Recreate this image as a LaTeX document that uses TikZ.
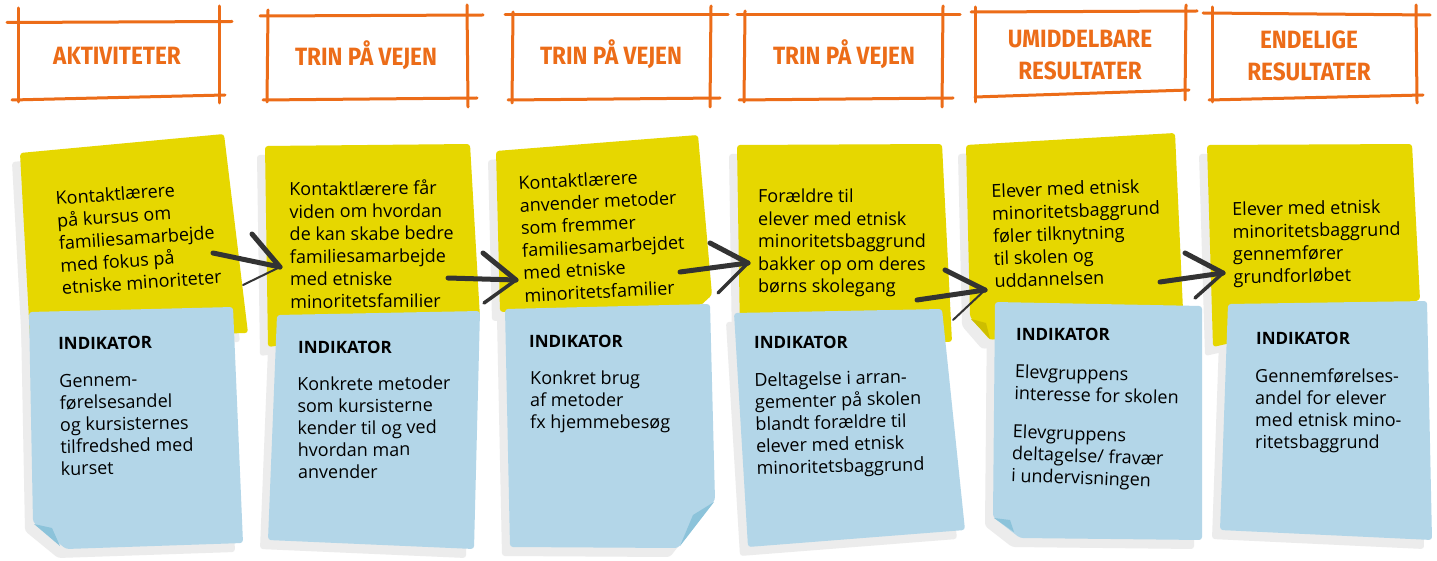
\documentclass[tikz,border=0pt]{standalone}
\usepackage{fontspec}
\setmainfont{Open Sans}
\newfontfamily\hdrfont{Fira Sans}
\definecolor{hdrorange}{RGB}{236,108,24}
\definecolor{notey}{RGB}{230,215,0}
\definecolor{noteb}{RGB}{179,214,232}
\definecolor{curlb}{RGB}{140,195,218}
\definecolor{curly}{RGB}{205,190,0}
\definecolor{shade}{RGB}{236,236,236}
\definecolor{arrowcol}{RGB}{51,51,51}
\newcommand{\hdrtxt}[2]{\scalebox{#1}[1]{#2}}
\tikzset{
  hline/.style={draw=hdrorange, line width=3pt, line cap=round},
  hdr/.style={text=hdrorange, inner sep=0pt, font=\hdrfont\bfseries\fontsize{25}{30}\selectfont},
  txt/.style={anchor=north west, align=left, inner sep=0pt, font=\fontsize{18}{22.5}\selectfont},
  btxt/.style={anchor=north west, align=left, inner sep=0pt, font=\fontsize{18}{22}\selectfont},
  ttl/.style={anchor=north west, inner sep=0pt, font=\bfseries\fontsize{17}{20}\selectfont},
  yfill/.style={fill=notey, rounded corners=3pt},
  bfill/.style={fill=noteb, rounded corners=3pt},
  sfill/.style={fill=shade, rounded corners=3pt},
  arr/.style={draw=arrowcol, line width=5pt, line cap=round},
  arrthin/.style={draw=arrowcol, line width=2pt, line cap=round},
  arrmid/.style={draw=arrowcol, line width=3.5pt, line cap=round},
  pY1/.style={insert path={(20,153) -- (224,134) -- (248,333) -- (30,338) -- cycle}},
  pB1/.style={insert path={(29,312) -- (233,307) -- (243,543) -- (66,549) -- (33,522) -- cycle}},
  pY2/.style={insert path={(265,146) -- (470,144) -- (480,318) -- (268,347) -- cycle}},
  pB2/.style={insert path={(277,315) -- (480,311) -- (474,549) -- (268,540) -- cycle}},
  pY3/.style={insert path={(496,151) -- (698,135) -- (712,295) -- (700,306) -- (500,312) -- cycle}},
  pB3/.style={insert path={(505,309) -- (710,304) -- (715,500) -- (678,548) -- (510,547) -- cycle}},
  pY4/.style={insert path={(737,145) -- (942,144) -- (952,342) -- (740,335) -- cycle}},
  pB4/.style={insert path={(734,313) -- (942,309) -- (965,530) -- (748,547) -- cycle}},
  pY5/.style={insert path={(966,145) -- (1175,133) -- (1183,310) -- (990,340) -- (970,317) -- cycle}},
  pB5/.style={insert path={(995,302) -- (1202,306) -- (1202,540) -- (1020,538) -- (993,517) -- cycle}},
  pY6/.style={insert path={(1207,145) -- (1412,144) -- (1420,300) -- (1213,347) -- cycle}},
  pB6/.style={insert path={(1228,304) -- (1427,301) -- (1432,540) -- (1220,530) -- cycle}},
}
\begin{document}
\begin{tikzpicture}[x=1pt,y=-1pt]
\useasboundingbox (0,0) rectangle (1437,561);
\fill[white] (0,0) rectangle (1437,561);

% ---------- header boxes ----------
\draw[hline] (7,22.5) -- (232,21.5);
\draw[hline] (18,8) -- (18,102);
\draw[hline] (219,6) -- (219,103);
\draw[hline] (12,100) -- (225,95);
\node[hdr] (h1) at (117,56) {\hdrtxt{0.9}{AKTIVITETER}};

\draw[hline] (260,16) -- (483,15);
\draw[hline] (268,10) -- (267,102);
\draw[hline] (467,5) -- (468,107);
\draw[hline] (263,100) -- (477,98);
\node[hdr] (h2) at (366,55) {\hdrtxt{0.9}{TRIN PÅ VEJEN}};

\draw[hline] (505,15) -- (728,15);
\draw[hline] (513,12) -- (512,103);
\draw[hline] (711,6) -- (710,107);
\draw[hline] (508,100) -- (720,98);
\node[hdr] (h3) at (611,54) {\hdrtxt{0.9}{TRIN PÅ VEJEN}};

\draw[hline] (737,15) -- (960,15);
\draw[hline] (745,11) -- (744,102);
\draw[hline] (943,6) -- (942,107);
\draw[hline] (739,100) -- (953,98);
\node[hdr] (h4) at (844,54) {\hdrtxt{0.9}{TRIN PÅ VEJEN}};

\draw[hline] (971,12) -- (1197,11);
\draw[hline] (975,7) -- (975,102);
\draw[hline] (1186,5) -- (1185,100);
\draw[hline] (975,97) -- (1189,90);
\node[hdr, align=center] (h5) at (1080,55) {\hdrtxt{0.9}{UMIDDELBARE}\\[2pt]\hdrtxt{0.9}{RESULTATER}};

\draw[hline] (1203,13) -- (1430,15);
\draw[hline] (1212,7) -- (1212,102);
\draw[hline] (1416,5) -- (1417,103);
\draw[hline] (1209,100) -- (1423,95);
\node[hdr, align=center] (h6) at (1309,56) {\hdrtxt{0.9}{ENDELIGE}\\[2pt]\hdrtxt{0.9}{RESULTATER}};

% ---------- shadows ----------
\foreach \p in {pY1,pB1,pY2,pB2,pY3,pB3,pY4,pB4,pY5,pB5,pY6,pB6}{
  \path[sfill, shift={(-8,9)}, \p];
}

% ---------- notes ----------
\path[yfill, pY1];
\path[bfill, pB1];
\fill[curlb] (34,524) -- (52,528) -- (60,546) -- cycle;

\path[yfill, pY2];
\path[bfill, pB2];

\path[yfill, pY3];
\path[bfill, pB3];
\fill[curlb] (693,515) -- (714,502) -- (680,546) -- cycle;

\path[yfill, pY4];
\path[bfill, pB4];

\path[yfill, pY5];
\fill[curly] (971,319) -- (986,323) -- (990,339) -- cycle;
\path[bfill, pB5];
\fill[curlb] (994,518) -- (1010,520) -- (1014,532) -- cycle;

\path[yfill, pY6];
\path[bfill, pB6];

% ---------- yellow texts ----------
\node[txt, rotate=4] (y1) at (55,191) {Kontaktlærere\\på kursus om\\familiesamarbejde\\med fokus på\\etniske minoriteter};
\node[txt, rotate=0.5] (y2) at (289,181) {Kontaktlærere får\\viden om hvordan\\de kan skabe bedre\\familiesamarbejde\\med etniske\\minoritetsfamilier};
\node[txt, rotate=3] (y3) at (518,176) {Kontaktlærere\\anvender metoder\\som fremmer\\familiesamarbejdet\\med etniske\\minoritetsfamilier};
\node[txt] (y4) at (758,189) {Forældre til\\elever med etnisk\\minoritetsbaggrund\\bakker op om deres\\børns skolegang};
\node[txt, rotate=2] (y5) at (991,184) {Elever med etnisk\\minoritetsbaggrund\\føler tilknytning\\til skolen og\\uddannelsen};
\node[txt, rotate=1] (y6) at (1232,202) {Elever med etnisk\\minoritetsbaggrund\\gennemfører\\grundforløbet};

% ---------- blue texts ----------
\node[ttl, rotate=0.5] (t1) at (58,337) {INDIKATOR};
\node[btxt, rotate=1] (b1) at (59,374) {Gennem-\\førelsesandel\\og kursisternes\\tilfredshed med\\kurset};
\node[ttl] (t2) at (298,341) {INDIKATOR};
\node[btxt, rotate=0.5] (b2) at (297,377) {Konkrete metoder\\som kursisterne\\kender til og ved\\hvordan man\\anvender};
\node[ttl] (t3) at (529,335) {INDIKATOR};
\node[btxt] (b3) at (530,371) {Konkret brug\\af metoder\\fx hjemmebesøg};
\node[ttl] (t4) at (754,336) {INDIKATOR};
\node[btxt, rotate=1.5] (b4) at (754,373) {Deltagelse i arran-\\gementer på skolen\\blandt forældre til\\elever med etnisk\\minoritetsbaggrund};
\node[ttl] (t5) at (1016,328) {INDIKATOR};
\node[btxt, rotate=-1.5] (b5a) at (1015,364) {Elevgruppens\\interesse for skolen};
\node[btxt, rotate=-2] (b5b) at (1013,424) {Elevgruppens\\deltagelse/ fravær\\i undervisningen};
\node[ttl] (t6) at (1256,332) {INDIKATOR};
\node[btxt] (b6) at (1255,369) {Gennemførelses-\\andel for elever\\med etnisk mino-\\ritetsbaggrund};

% ---------- arrows ----------
\coordinate (a1s) at (213,253); \coordinate (a1t) at (280,267);
\coordinate (a1u) at (252,234); \coordinate (a1l) at (243,285);
\draw[arr] (a1s) -- (a1t); \draw[arr] (a1u) -- (a1t); \draw[arrthin] (a1l) -- (a1t);

\coordinate (a2s) at (448,278); \coordinate (a2t) at (516,280);
\coordinate (a2u) at (483,253); \coordinate (a2l) at (484,303);
\draw[arr] (a2s) -- (a2t); \draw[arr] (a2u) -- (a2t); \draw[arrmid] (a2l) -- (a2t);

\coordinate (a3s) at (680,272); \coordinate (a3t) at (748,263);
\coordinate (a3u) at (710,243); \coordinate (a3l) at (718,293);
\draw[arr] (a3s) -- (a3t); \draw[arr] (a3u) -- (a3t); \draw[arrmid] (a3l) -- (a3t);

\coordinate (a4s) at (917,300); \coordinate (a4t) at (985,290);
\coordinate (a4u) at (945,270); \coordinate (a4l) at (953,320);
\draw[arr] (a4s) -- (a4t); \draw[arr] (a4u) -- (a4t); \draw[arrthin] (a4l) -- (a4t);

\coordinate (a5s) at (1160,282); \coordinate (a5t) at (1223,273);
\coordinate (a5u) at (1185,253); \coordinate (a5l) at (1195,298);
\draw[arr] (a5s) -- (a5t); \draw[arr] (a5u) -- (a5t); \draw[arrmid] (a5l) -- (a5t);
\end{tikzpicture}
\end{document}
